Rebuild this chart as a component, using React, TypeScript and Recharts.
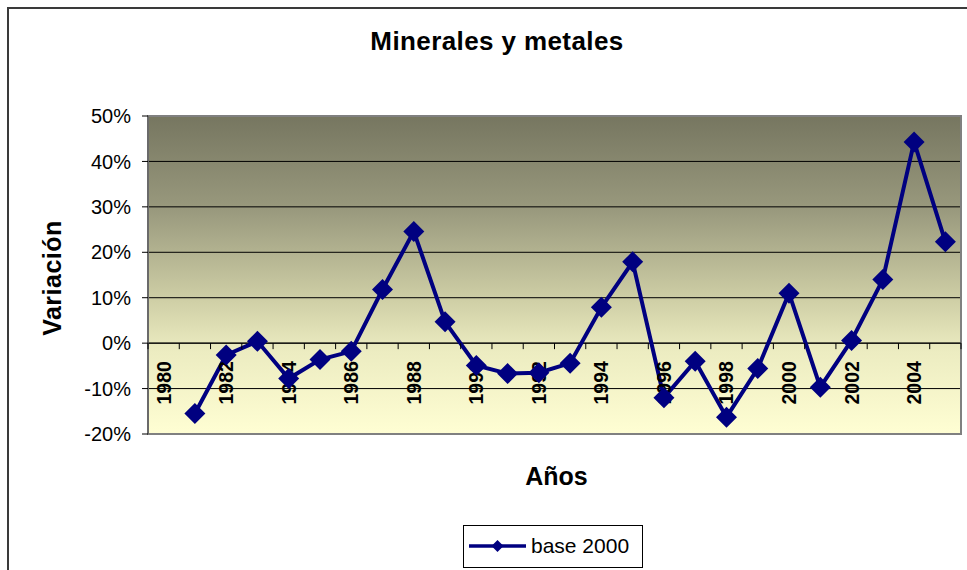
import React from 'react';
import {
  LineChart,
  Line,
  XAxis,
  YAxis,
  CartesianGrid,
  ReferenceLine,
  ReferenceDot,
  ReferenceArea,
  Legend,
} from 'recharts';

// ---- data ----
const categories = [
  1980, 1981, 1982, 1983, 1984, 1985, 1986, 1987, 1988, 1989, 1990, 1991, 1992,
  1993, 1994, 1995, 1996, 1997, 1998, 1999, 2000, 2001, 2002, 2003, 2004, 2005,
];
const years = [
  1981, 1982, 1983, 1984, 1985, 1986, 1987, 1988, 1989, 1990, 1991, 1992, 1993,
  1994, 1995, 1996, 1997, 1998, 1999, 2000, 2001, 2002, 2003, 2004, 2005,
];
const base2000 = [
  -0.155, -0.026, 0.004, -0.078, -0.036, -0.018, 0.118, 0.246, 0.047, -0.049,
  -0.067, -0.065, -0.044, 0.079, 0.179, -0.12, -0.04, -0.163, -0.056, 0.11,
  -0.097, 0.006, 0.14, 0.443, 0.223,
];
const yTicks = [-0.2, -0.1, 0, 0.1, 0.2, 0.3, 0.4, 0.5];
const xLabelYears = [1980, 1982, 1984, 1986, 1988, 1990, 1992, 1994, 1996, 1998, 2000, 2002, 2004];

const title = 'Minerales y metales';
const yTitle = 'Variación';
const xTitle = 'Años';
const seriesName = 'base 2000';

const data = years.map((y, i) => ({ year: y, value: base2000[i] }));
const tickBounds = [...categories.map((c) => c - 0.5), categories[categories.length - 1] + 0.5];
const xMin = tickBounds[0];
const xMax = tickBounds[tickBounds.length - 1];

const FONT = '"Liberation Sans", Arial, Helvetica, sans-serif';
const NAVY = '#000080';

const Diamond = (props: any) => {
  const { cx, cy } = props;
  if (cx == null || cy == null) return null;
  const h = 10.5;
  return (
    <polygon
      points={`${cx},${cy - h} ${cx + h},${cy} ${cx},${cy + h} ${cx - h},${cy}`}
      fill={NAVY}
    />
  );
};

const XLabel = (props: any) => {
  const { cx, cy, text } = props;
  if (cx == null || cy == null) return null;
  return (
    <text
      transform={`translate(${cx + 7},${cy + 18}) rotate(-90)`}
      textAnchor="end"
      fontFamily={FONT}
      fontSize={19.5}
      fontWeight="bold"
      fill="#000"
    >
      {text}
    </text>
  );
};

const XTick = (props: any) => {
  const { cx, cy } = props;
  if (cx == null || cy == null) return null;
  return <line x1={cx} x2={cx} y1={cy} y2={cy + 6} stroke="#000" strokeWidth={1} />;
};

const LegendContent = () => (
  <svg width={180} height={43} style={{ display: 'block' }}>
    <rect x={0.5} y={0.5} width={179} height={42} fill="#fff" stroke="#000" strokeWidth={1} />
    <line x1={6} x2={63} y1={21} y2={21} stroke={NAVY} strokeWidth={3.5} />
    <polygon points={`34.5,15 40.5,21 34.5,27 28.5,21`} fill={NAVY} />
    <text x={68} y={28} fontFamily={FONT} fontSize={21} fill="#000">
      {seriesName}
    </text>
  </svg>
);

export default function App() {
  return (
    <div
      style={{
        position: 'absolute',
        left: 0,
        top: 0,
        width: 967,
        height: 570,
        overflow: 'hidden',
        background: '#fff',
        fontFamily: FONT,
      }}
    >
      <div
        style={{
          position: 'absolute',
          left: 7,
          top: 7,
          width: 980,
          height: 600,
          border: '2px solid #3a3a3a',
          boxSizing: 'border-box',
        }}
      />
      <div style={{ position: 'absolute', left: 0, top: 0 }}>
        <LineChart
          width={967}
          height={570}
          data={data}
          margin={{ top: 116, right: 6, bottom: 136, left: 88 }}
        >
          <defs>
            <linearGradient id="plotBg" x1="0" y1="0" x2="0" y2="1">
              <stop offset="0%" stopColor="#767660" />
              <stop offset="30%" stopColor="#9a9a7e" />
              <stop offset="58%" stopColor="#cfcfa6" />
              <stop offset="74%" stopColor="#ececc1" />
              <stop offset="100%" stopColor="#fffed3" />
            </linearGradient>
          </defs>
          <CartesianGrid
            vertical={false}
            stroke="#000"
            strokeWidth={1}
            fill="url(#plotBg)"
            fillOpacity={1}
          />
          <XAxis
            type="number"
            dataKey="year"
            domain={[xMin, xMax]}
            hide
            allowDataOverflow
          />
          <YAxis
            type="number"
            domain={[-0.2, 0.5]}
            ticks={yTicks}
            width={60}
            interval={0}
            tickFormatter={(v: number) => `${Math.round(v * 100)}%`}
            tick={{ fontSize: 20, fill: '#000', fontFamily: FONT }}
            tickLine={{ stroke: '#000' }}
            tickSize={6}
            tickMargin={11}
            axisLine={{ stroke: '#555' }}
            allowDataOverflow
          />
          <ReferenceArea
            x1={xMin}
            x2={xMax}
            y1={-0.2}
            y2={0.5}
            fill="none"
            fillOpacity={0}
            stroke="#808080"
            strokeWidth={2}
          />
          <ReferenceLine y={0} stroke="#000" strokeWidth={1} />
          {tickBounds.map((b) => (
            <ReferenceDot key={`t${b}`} x={b} y={0} r={0} shape={<XTick />} />
          ))}
          {xLabelYears.map((y) => (
            <ReferenceDot
              key={`l${y}`}
              x={y}
              y={0}
              r={0}
              shape={(p: any) => <XLabel {...p} text={String(y)} />}
            />
          ))}
          <Line
            type="linear"
            dataKey="value"
            name={seriesName}
            stroke={NAVY}
            strokeWidth={4}
            dot={<Diamond />}
            activeDot={false}
            isAnimationActive={false}
          />
          <Legend
            layout="horizontal"
            verticalAlign="middle"
            align="center"
            wrapperStyle={{ left: 463, top: 525, width: 180, height: 43 }}
            content={() => <LegendContent />}
          />
        </LineChart>
      </div>
      <svg
        width={967}
        height={570}
        style={{ position: 'absolute', left: 0, top: 0, pointerEvents: 'none' }}
      >
        <text
          x={497}
          y={50}
          textAnchor="middle"
          fontFamily={FONT}
          fontSize={26}
          letterSpacing={0.4}
          fontWeight="bold"
          fill="#000"
        >
          {title}
        </text>
        <text
          x={556.5}
          y={485}
          textAnchor="middle"
          fontFamily={FONT}
          fontSize={25}
          fontWeight="bold"
          fill="#000"
        >
          {xTitle}
        </text>
        <text
          transform="translate(61,278) rotate(-90)"
          textAnchor="middle"
          fontFamily={FONT}
          fontSize={25}
          letterSpacing={0.5}
          fontWeight="bold"
          fill="#000"
        >
          {yTitle}
        </text>
      </svg>
    </div>
  );
}
